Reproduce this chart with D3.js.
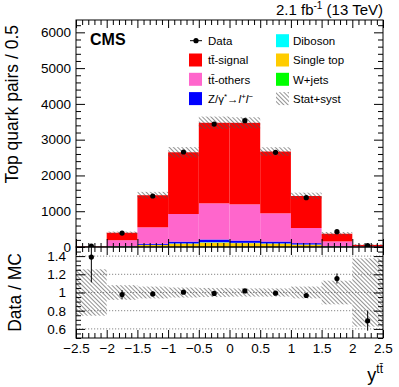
<!DOCTYPE html>
<html><head><meta charset="utf-8">
<script src="https://cdn.jsdelivr.net/npm/d3@7"></script>
<style>body{margin:0;background:#fff}svg{display:block;font-family:"Liberation Sans",Arial,Helvetica,sans-serif}</style>
</head><body><svg id="c" width="399" height="387"></svg>
<script>
// ---- data ----
const binEdges = [-2.5,-2,-1.5,-1,-0.5,0,0.5,1,1.5,2,2.5];
const wjets     = [0, 2, 5, 8, 10, 8, 8, 5, 2, 0];
const singleTop = [1, 15, 50, 85, 115, 100, 85, 60, 15, 2];
const diboson   = [0, 2, 5, 8, 10, 9, 8, 5, 2, 0];
const zjets     = [1, 10, 30, 50, 75, 63, 52, 38, 10, 1];
const ttOthers  = [6, 161, 460, 771, 1011, 1013, 789, 423, 128, 20];
const ttSignal  = [10, 209, 897, 1725, 2251, 2278, 1726, 895, 214, 35];
const dataVals  = [25, 390, 1425, 2655, 3437, 3530, 2647, 1379, 428, 40];
const relUnc    = [0.255, 0.08, 0.065, 0.055, 0.05, 0.045, 0.045, 0.065, 0.13, 0.375];
const xTickLabels = [-2.5,-2,-1.5,-1,-0.5,0,0.5,1,1.5,2,2.5];
const yTopTicks = [0,1000,2000,3000,4000,5000,6000];
const yRatioTicks = [0.6,0.8,1,1.2,1.4];

const keys = ["wjets","singleTop","diboson","zjets","ttOthers","ttSignal"];
const colors = {wjets:"#00ff00", singleTop:"#ffcc00", diboson:"#00ffff", zjets:"#0000ff", ttOthers:"#ff66cc", ttSignal:"#ff0000"};
const src = {wjets, singleTop, diboson, zjets, ttOthers, ttSignal};
const table = dataVals.map((d,i)=>{const r={i, lo:binEdges[i], hi:binEdges[i+1]}; keys.forEach(k=>r[k]=src[k][i]); return r;});
const mc = table.map(r=>keys.reduce((s,k)=>s+r[k],0));

// ---- layout ----
const L=76, R=383, T=20, MID=247, B=338;
const x = d3.scaleLinear().domain([-2.5,2.5]).range([L,R]);
const yT = d3.scaleLinear().domain([0,6345]).range([MID,T]);
const yR = d3.scaleLinear().domain([0.5,1.5]).range([B,MID]);

const svg = d3.select("#c");
const defs = svg.append("defs");
defs.append("pattern").attr("id","hatch").attr("patternUnits","userSpaceOnUse")
  .attr("width",3).attr("height",3).attr("patternTransform","rotate(-45)")
  .append("line").attr("x1",0.5).attr("y1",0).attr("x2",0.5).attr("y2",3)
  .attr("stroke","#555").attr("stroke-width",0.8).attr("stroke-opacity",0.8);
defs.append("clipPath").attr("id","clipTop").append("rect").attr("x",L).attr("y",T).attr("width",R-L).attr("height",MID-T);
defs.append("clipPath").attr("id","clipR").append("rect").attr("x",L).attr("y",MID).attr("width",R-L).attr("height",B-MID);

// ---- top panel ----
const gTop = svg.append("g").attr("clip-path","url(#clipTop)");
const stack = d3.stack().keys(keys)(table);
stack.forEach(layer=>{
  gTop.selectAll(null).data(layer).enter().append("rect")
    .attr("x",d=>x(d.data.lo)).attr("width",d=>x(d.data.hi)-x(d.data.lo))
    .attr("y",d=>yT(d[1])).attr("height",d=>Math.max(0,yT(d[0])-yT(d[1])))
    .attr("fill",colors[layer.key]);
});
gTop.selectAll(null).data(table).enter().append("rect")
  .attr("x",d=>x(d.lo)).attr("width",d=>x(d.hi)-x(d.lo))
  .attr("y",d=>yT(mc[d.i]*(1+relUnc[d.i]))).attr("height",d=>yT(mc[d.i]*(1-relUnc[d.i]))-yT(mc[d.i]*(1+relUnc[d.i])))
  .attr("fill","url(#hatch)");
// data
table.forEach(d=>{
  const cx = x((d.lo+d.hi)/2), v=dataVals[d.i], e=Math.sqrt(v);
  gTop.append("line").attr("x1",cx).attr("x2",cx).attr("y1",yT(v+e)).attr("y2",yT(v-e)).attr("stroke","#000");
  gTop.append("circle").attr("cx",cx).attr("cy",yT(v)).attr("r",2.6).attr("fill","#000");
});

// ---- ratio panel ----
const gR = svg.append("g").attr("clip-path","url(#clipR)");
gR.selectAll(null).data(yRatioTicks).enter().append("line")
  .attr("x1",L).attr("x2",R).attr("y1",d=>yR(d)).attr("y2",d=>yR(d))
  .attr("stroke","#888").attr("stroke-dasharray","1.2,1.8").attr("stroke-width",1);
gR.selectAll(null).data(table).enter().append("rect")
  .attr("x",d=>x(d.lo)).attr("width",d=>x(d.hi)-x(d.lo))
  .attr("y",d=>yR(1+relUnc[d.i])).attr("height",d=>yR(1-relUnc[d.i])-yR(1+relUnc[d.i]))
  .attr("fill","url(#hatch)");
table.forEach(d=>{
  const cx = x((d.lo+d.hi)/2), v=dataVals[d.i], r=v/mc[d.i], e=Math.sqrt(v)/mc[d.i];
  gR.append("line").attr("x1",cx).attr("x2",cx).attr("y1",yR(r+e)).attr("y2",yR(r-e)).attr("stroke","#000");
  gR.append("circle").attr("cx",cx).attr("cy",yR(r)).attr("r",2.6).attr("fill","#000");
});

// ---- axes ----
const fmt = d3.format("");
const minorX = d3.range(-25,26).map(v=>v/10).filter(v=>Math.abs(v*2-Math.round(v*2))>1e-6);
const minorYT = d3.range(0,6345,200).filter(v=>v%1000!==0);
const minorYR = d3.range(0.5,1.5001,0.05).map(v=>+v.toFixed(2)).filter(v=>Math.abs(v*5-Math.round(v*5))>1e-6);
function ax(gen, tr, size, vals, labels, pad){
  const g = svg.append("g").attr("transform",tr)
    .call(gen.tickValues(vals).tickSize(size).tickPadding(pad||3).tickFormat(labels?fmt:""));
  g.select(".domain").remove();
  g.selectAll("line").attr("stroke","#000");
  g.selectAll("text").attr("font-size",13.5).attr("fill","#000").attr("font-family","Liberation Sans, Arial, sans-serif");
  return g;
}
// top panel
ax(d3.axisLeft(yT), `translate(${L},0)`, -9, yTopTicks, true, 5);
ax(d3.axisLeft(yT), `translate(${L},0)`, -5, minorYT, false);
ax(d3.axisRight(yT), `translate(${R},0)`, -9, yTopTicks, false);
ax(d3.axisRight(yT), `translate(${R},0)`, -5, minorYT, false);
ax(d3.axisTop(x), `translate(0,${T})`, -8, xTickLabels, false);
ax(d3.axisTop(x), `translate(0,${T})`, -5, minorX, false);
ax(d3.axisBottom(x), `translate(0,${MID})`, -8, xTickLabels, false);
ax(d3.axisBottom(x), `translate(0,${MID})`, -4, minorX, false);
// ratio panel
ax(d3.axisTop(x), `translate(0,${MID})`, -8, xTickLabels, false);
ax(d3.axisTop(x), `translate(0,${MID})`, -5, minorX, false);
ax(d3.axisBottom(x), `translate(0,${B})`, -8, xTickLabels, true, 5.5);
ax(d3.axisBottom(x), `translate(0,${B})`, -5, minorX, false);
ax(d3.axisLeft(yR), `translate(${L},0)`, -9, yRatioTicks, true, 10);
ax(d3.axisLeft(yR), `translate(${L},0)`, -5, minorYR, false);
ax(d3.axisRight(yR), `translate(${R},0)`, -9, yRatioTicks, false);
ax(d3.axisRight(yR), `translate(${R},0)`, -5, minorYR, false);

// frames
svg.append("rect").attr("x",L).attr("y",T).attr("width",R-L).attr("height",MID-T).attr("fill","none").attr("stroke","#000");
svg.append("rect").attr("x",L).attr("y",MID).attr("width",R-L).attr("height",B-MID).attr("fill","none").attr("stroke","#000");

// ---- texts ----
svg.append("text").attr("transform","translate(18,25) rotate(-90)").attr("text-anchor","end")
  .attr("font-size",17.5).text("Top quark pairs / 0.5");
svg.append("text").attr("transform","translate(21,253) rotate(-90)").attr("text-anchor","end")
  .attr("font-size",17.5).text("Data / MC");
svg.append("text").attr("x",90).attr("y",45).attr("font-size",16).attr("font-weight","bold").text("CMS");
const hdr = svg.append("text").attr("x",R).attr("y",15).attr("text-anchor","end").attr("font-size",15);
hdr.append("tspan").text("2.1 fb");
hdr.append("tspan").attr("font-size",10).attr("dy",-6).text("-1");
hdr.append("tspan").attr("dy",6).text(" (13 TeV)");
const xt = svg.append("text").attr("x",R).attr("y",381).attr("text-anchor","end").attr("font-size",18);
xt.append("tspan").text("y");
xt.append("tspan").attr("font-size",12).attr("dy",-8).text("tt\u0304");

// ---- legend ----
const lg = svg.append("g").attr("font-size",11.5);
const rowY = [40.7, 60, 79.3, 98.6];
// Data
lg.append("circle").attr("cx",196).attr("cy",rowY[0]).attr("r",2.6).attr("fill","#000");
lg.append("line").attr("x1",190).attr("x2",202).attr("y1",rowY[0]).attr("y2",rowY[0]).attr("stroke","#000");
lg.append("text").attr("x",208).attr("y",rowY[0]+4.2).text("Data");
function box(xx,yy,fill){ lg.append("rect").attr("x",xx).attr("y",yy-6.5).attr("width",13).attr("height",13).attr("fill",fill); }
box(189,rowY[1],colors.ttSignal); lg.append("text").attr("x",208).attr("y",rowY[1]+4.2).text("tt\u0304-signal");
box(189,rowY[2],colors.ttOthers); lg.append("text").attr("x",208).attr("y",rowY[2]+4.2).text("tt\u0304-others");
box(189,rowY[3],colors.zjets);
const zt = lg.append("text").attr("x",208).attr("y",rowY[3]+4.2);
zt.append("tspan").text("Z/\u03b3");
zt.append("tspan").attr("font-size",8).attr("dy",-4).text("*");
zt.append("tspan").attr("dy",4).text("\u2192");
zt.append("tspan").attr("font-style","italic").text("l");
zt.append("tspan").attr("font-size",8).attr("dy",-4).text("+");
zt.append("tspan").attr("dy",4).attr("font-style","italic").text("l");
zt.append("tspan").attr("font-size",8).attr("dy",-4).text("\u2212");
box(276,rowY[0],colors.diboson); lg.append("text").attr("x",293).attr("y",rowY[0]+4.2).text("Diboson");
box(276,rowY[1],colors.singleTop); lg.append("text").attr("x",293).attr("y",rowY[1]+4.2).text("Single top");
box(276,rowY[2],colors.wjets); lg.append("text").attr("x",293).attr("y",rowY[2]+4.2).text("W+jets");
box(276,rowY[3],"url(#hatch)"); lg.append("text").attr("x",293).attr("y",rowY[3]+4.2).text("Stat+syst");
</script></body></html>
